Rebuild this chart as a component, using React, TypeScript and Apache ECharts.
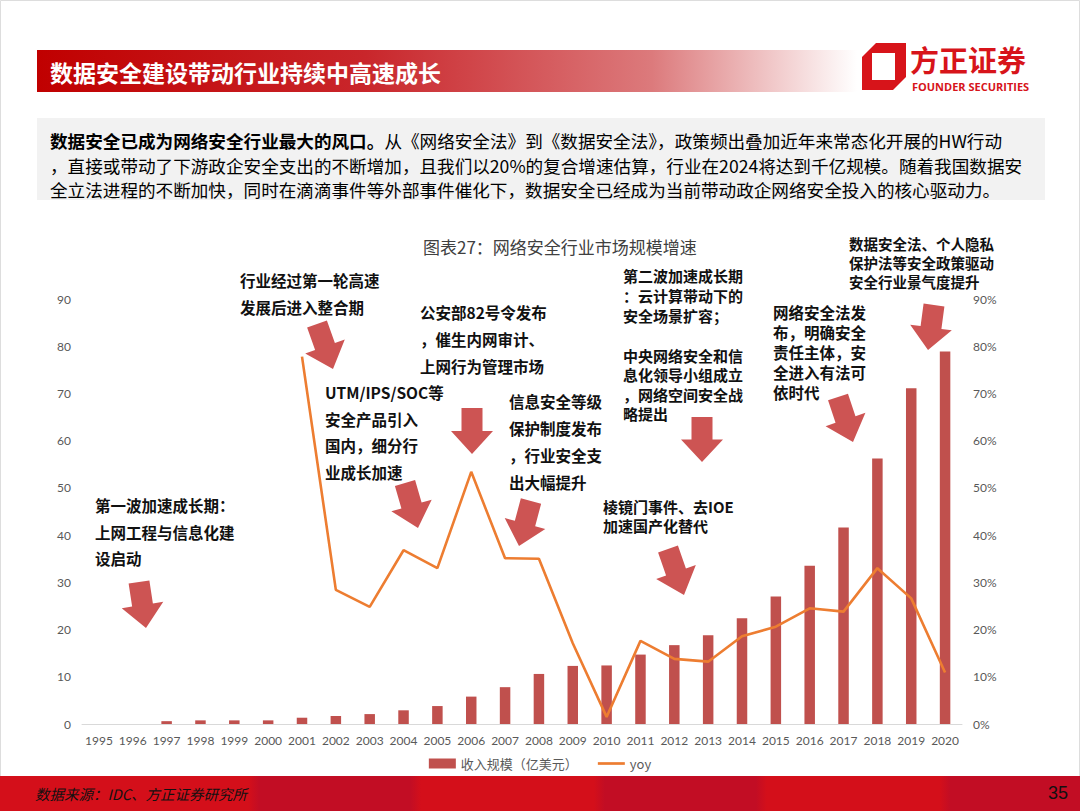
import React, { useEffect, useRef } from "react";
import * as echarts from "echarts";

const years = ["1995","1996","1997","1998","1999","2000","2001","2002","2003","2004","2005","2006","2007","2008","2009","2010","2011","2012","2013","2014","2015","2016","2017","2018","2019","2020"];
const revenue = [0,0,0.6,0.77,0.77,0.77,1.33,1.7,2.1,2.9,3.8,5.8,7.8,10.6,12.3,12.4,14.7,16.7,18.8,22.4,27.0,33.5,41.6,56.2,71.1,78.9];
const yoy = [null,null,null,null,null,null,77.8,28.4,24.8,36.8,33.0,53.4,35.1,35.0,17.1,1.5,17.6,13.8,13.2,18.6,20.6,24.5,23.8,33.0,26.6,10.9];
const seriesNames = ["收入规模（亿美元）", "yoy"];

const headerTitle = "数据安全建设带动行业持续中高速成长";
const introBold = "数据安全已成为网络安全行业最大的风口。";
const introLine1 = "从《网络安全法》到《数据安全法》，政策频出叠加近年来常态化开展的HW行动";
const introLine2 = "，直接或带动了下游政企安全支出的不断增加，且我们以20%的复合增速估算，行业在2024将达到千亿规模。随着我国数据安";
const introLine3 = "全立法进程的不断加快，同时在滴滴事件等外部事件催化下，数据安全已经成为当前带动政企网络安全投入的核心驱动力。";
const chartTitle = "图表27：网络安全行业市场规模增速";
const sourceText = "数据来源：IDC、方正证券研究所";
const pageNo = "35";

const annotations = [
  { lines: ["第一波加速成长期：", "上网工程与信息化建", "设启动"], x: 95, y: 505, gap: 26.5, fs: 15.5 },
  { lines: ["行业经过第一轮高速", "发展后进入整合期"], x: 240, y: 280, gap: 27, fs: 15.5 },
  { lines: ["UTM/IPS/SOC等", "安全产品引入", "国内，细分行", "业成长加速"], x: 325, y: 392, gap: 26.7, fs: 15.5 },
  { lines: ["公安部82号令发布", "，催生内网审计、", "上网行为管理市场"], x: 420, y: 312, gap: 27, fs: 15.5 },
  { lines: ["信息安全等级", "保护制度发布", "，行业安全支", "出大幅提升"], x: 509, y: 401, gap: 27, fs: 15.5 },
  { lines: ["第二波加速成长期", "：云计算带动下的", "安全场景扩容；"], x: 623, y: 275, gap: 20, fs: 15 },
  { lines: ["中央网络安全和信", "息化领导小组成立", "，网络空间安全战", "略提出"], x: 623, y: 355, gap: 19.5, fs: 15 },
  { lines: ["棱镜门事件、去IOE", "加速国产化替代"], x: 603, y: 506, gap: 19.7, fs: 15 },
  { lines: ["网络安全法发", "布，明确安全", "责任主体，安", "全进入有法可", "依时代"], x: 773, y: 312, gap: 20, fs: 15.5 },
  { lines: ["数据安全法、个人隐私", "保护法等安全政策驱动", "安全行业景气度提升"], x: 849, y: 243, gap: 19, fs: 14.5 },
];

// arrows: [topX, topY, tipX, tipY]
const arrows = [
  [139, 582, 146, 628],
  [317, 324, 333, 369],
  [405, 483, 418, 528],
  [472, 408, 472, 454],
  [531, 501, 519, 546],
  [668, 549, 684, 595],
  [702, 417, 702, 462],
  [838, 397, 853, 442],
  [934, 305, 928, 350],
];

function arrowPoints(a: number[]) {
  const [tx, ty, px, py] = a;
  const dx = px - tx, dy = py - ty;
  const len = Math.sqrt(dx * dx + dy * dy);
  const ux = dx / len, uy = dy / len;
  const nx = -uy, ny = ux;
  const sw = 10.5, hw = 21, hl = len * 0.5;
  const local = [
    [-sw, 0], [sw, 0], [sw, len - hl], [hw, len - hl], [0, len], [-hw, len - hl], [-sw, len - hl],
  ];
  return local.map(([n, s]) => [tx + ux * s + nx * n, ty + uy * s + ny * n]);
}

const CJK = '"Noto Sans CJK SC", "Noto Sans", sans-serif';

export default function App() {
  const ref = useRef<HTMLDivElement>(null);
  useEffect(() => {
    document.body.style.margin = "0";
    if (!ref.current) return;
    const chart = echarts.init(ref.current, undefined, { renderer: "svg" });

    const graphics: any[] = [];
    graphics.push({ type: "rect", shape: { x: 0.5, y: 0.5, width: 1079, height: 810 }, style: { fill: "none", stroke: "#dddddd", lineWidth: 1 }, z: 0 });
    graphics.push({
      type: "rect", shape: { x: 37, y: 50, width: 820, height: 42 },
      style: { fill: new echarts.graphic.LinearGradient(0, 0, 1, 0, [
        { offset: 0, color: "#c00000" }, { offset: 0.4, color: "#c9262b" }, { offset: 0.75, color: "#dc7a7c" }, { offset: 1, color: "#ffffff" },
      ]) },
    });
    graphics.push({ type: "text", x: 50, y: 72, style: { text: headerTitle, fill: "#ffffff", font: `bold 23px ${CJK}`, verticalAlign: "middle" } });
    // logo
    graphics.push({ type: "polygon", shape: { points: [[876, 43], [906, 43], [906, 77], [893, 90], [862, 90], [862, 57]] }, style: { fill: "#d7141a" } });
    graphics.push({ type: "rect", shape: { x: 872, y: 53, width: 23, height: 27 }, style: { fill: "#ffffff" } });
    graphics.push({ type: "text", x: 910, y: 58.5, style: { text: "方正证券", fill: "#d7141a", font: `bold 29px ${CJK}`, verticalAlign: "middle" } });
    graphics.push({ type: "text", x: 912, y: 86, style: { text: "FOUNDER SECURITIES", fill: "#d7141a", font: `bold 11px "Open Sans", sans-serif`, verticalAlign: "middle" } });
    // intro box
    graphics.push({ type: "rect", shape: { x: 37, y: 118, width: 1008, height: 82 }, style: { fill: "#f2f2f2" } });
    const fs = 17.6;
    graphics.push({ type: "text", x: 50, y: 140, style: { text: introBold, fill: "#000", font: `bold ${fs}px ${CJK}`, verticalAlign: "middle" } });
    graphics.push({ type: "text", x: 50 + introBold.length * fs, y: 140, style: { text: introLine1, fill: "#000", font: `${fs}px ${CJK}`, verticalAlign: "middle" } });
    graphics.push({ type: "text", x: 50, y: 165, style: { text: introLine2, fill: "#000", font: `${fs}px ${CJK}`, verticalAlign: "middle" } });
    graphics.push({ type: "text", x: 50, y: 189, style: { text: introLine3, fill: "#000", font: `${fs}px ${CJK}`, verticalAlign: "middle" } });
    // chart title
    graphics.push({ type: "text", x: 423, y: 246, style: { text: chartTitle, fill: "#404040", font: `17px ${CJK}`, verticalAlign: "middle" } });
    // annotations
    annotations.forEach((a) => {
      a.lines.forEach((ln, i) => {
        graphics.push({ type: "text", x: a.x, y: a.y + i * a.gap, z: 10, style: { text: ln, fill: "#111111", font: `bold ${a.fs}px ${CJK}`, verticalAlign: "middle" } });
      });
    });
    arrows.forEach((a) => {
      graphics.push({ type: "polygon", z: 10, shape: { points: arrowPoints(a) }, style: { fill: "#cd5453" } });
    });
    // footer
    graphics.push({
      type: "rect", shape: { x: 0, y: 776, width: 1080, height: 35 },
      style: { fill: new echarts.graphic.LinearGradient(0, 0, 1, 0, [
        { offset: 0, color: "#d40f1a" }, { offset: 0.23, color: "#d40f1a" }, { offset: 0.24, color: "#c20d24" }, { offset: 0.38, color: "#c20d24" },
        { offset: 0.39, color: "#d40f1a" }, { offset: 0.55, color: "#d40f1a" }, { offset: 0.56, color: "#c20d24" }, { offset: 0.7, color: "#c20d24" },
        { offset: 0.71, color: "#d40f1a" }, { offset: 0.87, color: "#d40f1a" }, { offset: 0.88, color: "#c20d24" }, { offset: 1, color: "#c20d24" },
      ]) },
    });
    graphics.push({ type: "text", x: 35, y: 793, style: { text: sourceText, fill: "#111", font: `italic 14.5px ${CJK}`, verticalAlign: "middle" } });
    graphics.push({ type: "text", x: 1068, y: 793, style: { text: pageNo, fill: "#111", font: `18px "Liberation Sans", sans-serif`, verticalAlign: "middle", align: "right" } });

    chart.setOption({
      animation: false,
      backgroundColor: "#ffffff",
      grid: { left: 82, right: 118, top: 299, bottom: 87, containLabel: false },
      legend: {
        top: 752, left: "center", itemWidth: 27, itemHeight: 10, itemGap: 20,
        textStyle: { color: "#595959", fontSize: 13, fontFamily: CJK },
        data: [
          { name: seriesNames[0], icon: "rect" },
          { name: seriesNames[1], icon: "path://M0 0 H30 V3 H0 Z" },
        ],
      },
      xAxis: {
        type: "category", data: years, boundaryGap: true,
        axisLine: { lineStyle: { color: "#d9d9d9", width: 1 } },
        axisTick: { show: false },
        axisLabel: { color: "#595959", fontSize: 12, fontFamily: "Lato, sans-serif", margin: 10, interval: 0 },
      },
      yAxis: [
        {
          type: "value", min: 0, max: 90, interval: 10,
          axisLine: { show: false }, axisTick: { show: false }, splitLine: { show: false },
          axisLabel: { color: "#595959", fontSize: 12, fontFamily: "Lato, sans-serif", margin: 11 },
        },
        {
          type: "value", min: 0, max: 90, interval: 10,
          axisLine: { show: false }, axisTick: { show: false }, splitLine: { show: false },
          axisLabel: { color: "#595959", fontSize: 12, fontFamily: "Lato, sans-serif", formatter: "{value}%", margin: 11 },
        },
      ],
      series: [
        { name: seriesNames[0], type: "bar", data: revenue, barWidth: 10.5, itemStyle: { color: "#c0504d" } },
        {
          name: seriesNames[1], type: "line", yAxisIndex: 1, data: yoy, symbol: "none", connectNulls: false,
          lineStyle: { color: "#ed7d31", width: 2.6 }, itemStyle: { color: "#ed7d31" },
        },
      ],
      graphic: { elements: graphics },
    });
    return () => chart.dispose();
  }, []);
  return <div ref={ref} style={{ width: 1080, height: 811 }} />;
}
